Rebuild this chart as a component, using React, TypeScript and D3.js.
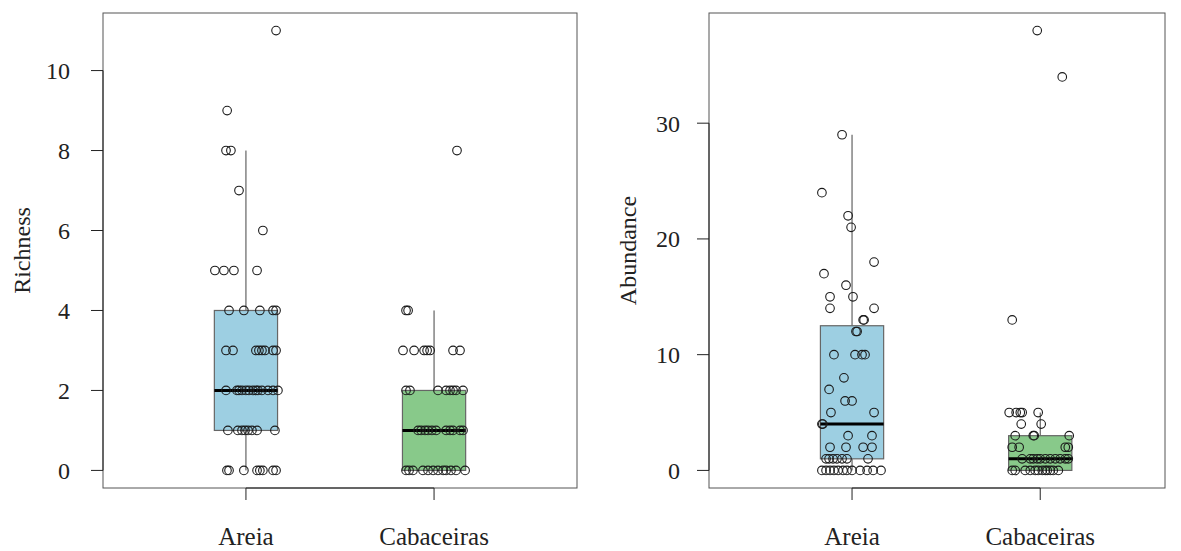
//@ts-nocheck
import { useEffect, useRef } from "react";
import * as d3 from "d3";

// ---- data ----
const sites = ["Areia", "Cabaceiras"];

const richnessAreia = [11, 9, 8, 8, 7, 6, 5, 5, 5, 5, 4, 4, 4, 4, 4, 3, 3, 3, 3, 3, 3, 3, 3, 2, 2, 2, 2, 2, 2, 2, 2, 2, 2, 2, 2, 2, 1, 1, 1, 1, 1, 1, 1, 1, 0, 0, 0, 0, 0, 0, 0, 0];
const richnessAreiaJitter = [0.16, -0.1, -0.106, -0.08, -0.037, 0.09, -0.165, -0.117, -0.064, 0.059, -0.09, -0.011, 0.074, 0.144, 0.16, -0.106, -0.069, 0.053, 0.069, 0.085, 0.101, 0.144, 0.16, -0.106, -0.048, -0.037, -0.021, 0, 0.016, 0.037, 0.053, 0.064, 0.085, 0.117, 0.144, 0.17, -0.096, -0.043, -0.021, -0.005, 0.011, 0.032, 0.059, 0.154, -0.101, -0.09, -0.011, 0.059, 0.074, 0.09, 0.144, 0.16];

const richnessCabaceiras = [8, 4, 4, 3, 3, 3, 3, 3, 3, 3, 2, 2, 2, 2, 2, 2, 2, 2, 1, 1, 1, 1, 1, 1, 1, 1, 1, 1, 1, 0, 0, 0, 0, 0, 0, 0, 0, 0, 0, 0, 0];
const richnessCabaceirasJitter = [0.122, -0.149, -0.138, -0.165, -0.106, -0.053, -0.037, -0.021, 0.101, 0.138, -0.149, -0.128, 0.021, 0.064, 0.085, 0.101, 0.117, 0.154, -0.085, -0.069, -0.048, -0.032, -0.011, 0.011, 0.064, 0.085, 0.101, 0.138, 0.154, -0.149, -0.133, -0.112, -0.059, -0.032, -0.005, 0.021, 0.048, 0.064, 0.09, 0.117, 0.165];

const abundanceAreia = [29, 24, 22, 21, 18, 17, 16, 15, 15, 14, 14, 13, 13, 12, 12, 10, 10, 10, 10, 8, 7, 6, 6, 5, 5, 4, 4, 3, 3, 2, 2, 2, 2, 1, 1, 1, 1, 1, 1, 1, 0, 0, 0, 0, 0, 0, 0, 0, 0, 0, 0, 0];
const abundanceAreiaJitter = [-0.053, -0.16, -0.021, -0.005, 0.117, -0.149, -0.032, -0.117, 0.005, -0.117, 0.117, 0.059, 0.064, 0.021, 0.027, -0.096, 0.016, 0.053, 0.069, -0.043, -0.122, -0.037, 0, -0.112, 0.117, -0.16, -0.155, -0.021, 0.106, -0.117, -0.032, 0.059, 0.106, -0.138, -0.122, -0.101, -0.08, -0.053, -0.027, 0.085, -0.16, -0.138, -0.117, -0.096, -0.074, -0.048, -0.027, 0, 0.043, 0.08, 0.112, 0.154];

const abundanceCabaceiras = [38, 34, 13, 5, 5, 5, 5, 5, 4, 4, 3, 3, 3, 3, 2, 2, 2, 2, 1, 1, 1, 1, 1, 1, 1, 1, 1, 1, 1, 0, 0, 0, 0, 0, 0, 0, 0, 0, 0, 0, 0];
const abundanceCabaceirasJitter = [-0.016, 0.117, -0.149, -0.165, -0.128, -0.106, -0.096, -0.011, -0.101, 0.005, -0.133, -0.037, -0.032, 0.154, -0.149, -0.112, 0.133, 0.149, -0.096, -0.053, -0.037, -0.016, 0, 0.027, 0.053, 0.08, 0.106, 0.133, 0.149, -0.149, -0.133, -0.08, -0.053, -0.027, -0.011, 0.011, 0.037, 0.053, 0.069, 0.096, 0.027];

const richnessTicks = [0, 2, 4, 6, 8, 10];
const abundanceTicks = [0, 10, 20, 30];

const boxColors = ["#9dcfe2", "#88c98a"];

// R style hinges (fivenum)
function fivenum(vals) {
  const x = vals.slice().sort((a, b) => a - b);
  const n = x.length;
  const n4 = Math.floor((n + 3) / 2) / 2;
  const d = [1, n4, (n + 1) / 2, n + 1 - n4, n];
  return d.map((p) => 0.5 * (x[Math.floor(p) - 1] + x[Math.ceil(p) - 1]));
}

function boxStats(vals) {
  const [mn, lo, med, hi, mx] = fivenum(vals);
  const iqr = hi - lo;
  const inside = vals.filter((v) => v >= lo - 1.5 * iqr && v <= hi + 1.5 * iqr);
  return { lo, med, hi, wLo: d3.min(inside), wHi: d3.max(inside) };
}

const FONT = "Liberation Serif, Times New Roman, serif";

export default function App() {
  const ref = useRef(null);

  useEffect(() => {
    const svg = d3.select(ref.current);
    svg.selectAll("*").remove();

    const panels = [
      {
        left: 103, right: 577, top: 13, bottom: 488,
        xDomain: [0.24, 2.76],
        ymax: 11, ticks: richnessTicks, title: "Richness", titleX: 22,
        labelX: 70,
        groups: [
          { vals: richnessAreia, jit: richnessAreiaJitter },
          { vals: richnessCabaceiras, jit: richnessCabaceirasJitter },
        ],
      },
      {
        left: 709, right: 1165, top: 13, bottom: 488,
        xDomain: [0.24, 0.24 + 456 / 188.2],
        ymax: 38, ticks: abundanceTicks, title: "Abundance", titleX: 628,
        labelX: 680,
        groups: [
          { vals: abundanceAreia, jit: abundanceAreiaJitter },
          { vals: abundanceCabaceiras, jit: abundanceCabaceirasJitter },
        ],
      },
    ];

    panels.forEach((p) => {
      const ext = p.ymax * 0.04;
      const y = d3.scaleLinear().domain([-ext, p.ymax + ext]).range([p.bottom, p.top]);
      const x = d3.scaleLinear().domain(p.xDomain).range([p.left, p.right]);
      const g = svg.append("g");
      const halfW = 0.168;

      // boxes
      p.groups.forEach((grp, i) => {
        const s = boxStats(grp.vals);
        const cx = x(i + 1);
        g.append("line")
          .attr("x1", cx).attr("x2", cx)
          .attr("y1", y(s.hi)).attr("y2", y(s.wHi))
          .attr("stroke", "#444").attr("stroke-width", 1);
        g.append("line")
          .attr("x1", cx).attr("x2", cx)
          .attr("y1", y(s.lo)).attr("y2", y(s.wLo))
          .attr("stroke", "#444").attr("stroke-width", 1);
        g.append("rect")
          .attr("x", x(i + 1 - halfW))
          .attr("width", x(i + 1 + halfW) - x(i + 1 - halfW))
          .attr("y", y(s.hi))
          .attr("height", y(s.lo) - y(s.hi))
          .attr("fill", boxColors[i])
          .attr("stroke", "#666")
          .attr("stroke-width", 1.2);
        g.append("line")
          .attr("x1", x(i + 1 - halfW)).attr("x2", x(i + 1 + halfW))
          .attr("y1", y(s.med)).attr("y2", y(s.med))
          .attr("stroke", "#000").attr("stroke-width", 3);
      });

      // jittered points
      p.groups.forEach((grp, i) => {
        g.append("g")
          .selectAll("circle")
          .data(grp.vals)
          .join("circle")
          .attr("cx", (d, j) => x(i + 1 + grp.jit[j]))
          .attr("cy", (d) => y(d))
          .attr("r", 4.3)
          .attr("fill", "none")
          .attr("stroke", "#1a1a1a")
          .attr("stroke-width", 1.1);
      });

      // frame
      g.append("rect")
        .attr("x", p.left).attr("y", p.top)
        .attr("width", p.right - p.left).attr("height", p.bottom - p.top)
        .attr("fill", "none").attr("stroke", "#555").attr("stroke-width", 1);

      // y axis
      const ya = g.append("g");
      ya.append("line")
        .attr("x1", p.left).attr("x2", p.left)
        .attr("y1", y(p.ticks[0])).attr("y2", y(p.ticks[p.ticks.length - 1]))
        .attr("stroke", "#222");
      p.ticks.forEach((t) => {
        ya.append("line")
          .attr("x1", p.left - 12).attr("x2", p.left)
          .attr("y1", y(t)).attr("y2", y(t))
          .attr("stroke", "#222");
        ya.append("text")
          .attr("x", p.labelX).attr("y", y(t))
          .attr("dy", "0.35em")
          .attr("text-anchor", "end")
          .style("font-family", FONT).style("font-size", "24px")
          .attr("fill", "#222")
          .text(t);
      });

      // x axis
      const xa = g.append("g");
      xa.append("line")
        .attr("x1", x(1)).attr("x2", x(2))
        .attr("y1", p.bottom).attr("y2", p.bottom)
        .attr("stroke", "#222");
      sites.forEach((s, i) => {
        xa.append("line")
          .attr("x1", x(i + 1)).attr("x2", x(i + 1))
          .attr("y1", p.bottom).attr("y2", p.bottom + 12)
          .attr("stroke", "#222");
        xa.append("text")
          .attr("x", x(i + 1)).attr("y", 545)
          .attr("text-anchor", "middle")
          .style("font-family", FONT).style("font-size", "25px")
          .attr("fill", "#222")
          .text(s);
      });

      // y title
      g.append("text")
        .attr("transform", `translate(${p.titleX},${(p.top + p.bottom) / 2}) rotate(-90)`)
        .attr("text-anchor", "middle")
        .attr("dy", "0.35em")
        .style("font-family", FONT).style("font-size", "24px")
        .attr("fill", "#222")
        .text(p.title);
    });
  }, []);

  return (
    <svg
      ref={ref}
      width={1181}
      height={551}
      style={{ position: "absolute", left: 0, top: 0, background: "#fff" }}
    ></svg>
  );
}
